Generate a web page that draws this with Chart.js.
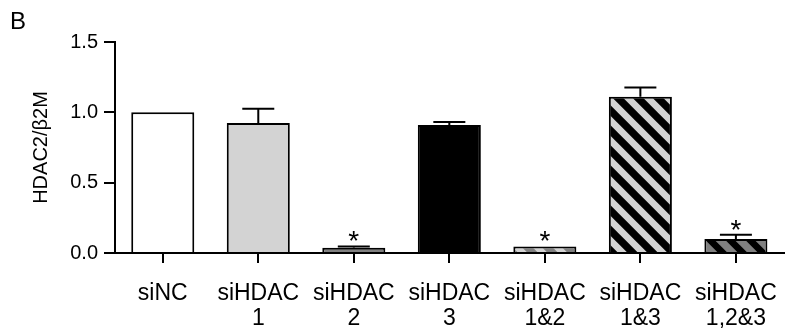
<!DOCTYPE html>
<html lang="en">
<head>
  <meta charset="UTF-8" />
  <title>HDAC2/β2M</title>
  <script src="https://cdn.jsdelivr.net/npm/chart.js"></script>
  <style>
    body { margin: 0; background: #fff; }
    canvas { display: block; }
  </style>
</head>
<body>
<canvas id="grafico" width="795" height="335"></canvas>
<script>
  // dados
  const categorias = [['siNC'], ['siHDAC', '1'], ['siHDAC', '2'], ['siHDAC', '3'],
    ['siHDAC', '1&2'], ['siHDAC', '1&3'], ['siHDAC', '1,2&3']];
  const medias = [1.0, 0.925, 0.037, 0.91, 0.047, 1.11, 0.099];
  const erros = [0, 0.10, 0.01, 0.022, 0, 0.066, 0.03];
  const significativo = [false, false, true, false, true, false, true];
  const ticksY = [0, 0.5, 1.0, 1.5];

  const fonte = "'Liberation Sans', Arial, sans-serif";
  const cinzaClaro = '#d3d3d3';
  const cinza = '#808080';

  function listras(fundo, frente) {
    const c = document.createElement('canvas');
    c.width = 20;
    c.height = 20;
    const g = c.getContext('2d');
    g.fillStyle = fundo;
    g.fillRect(0, 0, 20, 20);
    g.strokeStyle = frente;
    g.lineWidth = 7.5;
    g.beginPath();
    g.moveTo(-5, -5); g.lineTo(25, 25);
    g.moveTo(-5, 15); g.lineTo(5, 25);
    g.moveTo(15, -5); g.lineTo(25, 5);
    g.stroke();
    return g.createPattern(c, 'repeat');
  }

  const preenchimentos = ['#ffffff', cinzaClaro, cinza, '#000000',
    listras(cinzaClaro, cinza), listras(cinzaClaro, '#000000'), listras('#000000', cinza)];

  // barras de erro, asteriscos e a letra do painel
  const extras = {
    id: 'extras',
    afterDatasetsDraw(chart) {
      const ctx = chart.ctx;
      const y = chart.scales.y;
      const meta = chart.getDatasetMeta(0);
      ctx.save();
      ctx.strokeStyle = '#000';
      ctx.lineWidth = 2;
      meta.data.forEach((bar, i) => {
        const topo = medias[i] + erros[i];
        if (erros[i] > 0) {
          const y0 = y.getPixelForValue(medias[i]);
          const y1 = y.getPixelForValue(topo);
          ctx.beginPath();
          ctx.moveTo(bar.x, y0);
          ctx.lineTo(bar.x, y1);
          ctx.moveTo(bar.x - 16, y1);
          ctx.lineTo(bar.x + 16, y1);
          ctx.stroke();
        }
        if (significativo[i]) {
          const centro = y.getPixelForValue(topo) - 12;
          ctx.fillStyle = '#000';
          ctx.font = '28px ' + fonte;
          ctx.textAlign = 'center';
          ctx.textBaseline = 'alphabetic';
          ctx.fillText('*', bar.x, centro + 0.575 * 28);
        }
      });
      ctx.fillStyle = '#000';
      ctx.font = '24px ' + fonte;
      ctx.textAlign = 'left';
      ctx.textBaseline = 'alphabetic';
      ctx.fillText('B', 10, 29);
      ctx.restore();
    }
  };

  new Chart(document.getElementById('grafico'), {
    type: 'bar',
    data: {
      labels: categorias,
      datasets: [{
        data: medias,
        backgroundColor: preenchimentos,
        borderColor: '#000',
        borderWidth: 2,
        borderSkipped: 'bottom',
        categoryPercentage: 1,
        barPercentage: 0.66
      }]
    },
    options: {
      responsive: false,
      animation: false,
      devicePixelRatio: 1,
      events: [],
      layout: { padding: { top: 42, right: 3, bottom: 0, left: 0 } },
      plugins: {
        legend: { display: false },
        tooltip: { enabled: false }
      },
      scales: {
        x: {
          afterFit: s => { s.height = 82; },
          grid: {
            offset: false,
            drawOnChartArea: false,
            color: '#000',
            lineWidth: 2,
            tickLength: 10
          },
          border: { color: '#000', width: 2 },
          ticks: {
            color: '#000',
            padding: 18,
            maxRotation: 0,
            font: { family: fonte, size: 23, lineHeight: 1.1 }
          }
        },
        y: {
          min: 0,
          max: 1.5,
          afterFit: s => { s.width = 115; },
          afterBuildTicks: s => { s.ticks = ticksY.map(v => ({ value: v })); },
          grid: {
            drawOnChartArea: false,
            color: '#000',
            lineWidth: 2,
            tickLength: 11
          },
          border: { color: '#000', width: 2 },
          ticks: {
            color: '#000',
            padding: 6,
            font: { family: fonte, size: 20 },
            callback: v => v.toFixed(1)
          },
          title: {
            display: true,
            text: 'HDAC2/β2M',
            color: '#000',
            padding: { top: 29, bottom: 0 },
            font: { family: fonte, size: 20 }
          }
        }
      }
    },
    plugins: [extras]
  });
</script>
</body>
</html>
